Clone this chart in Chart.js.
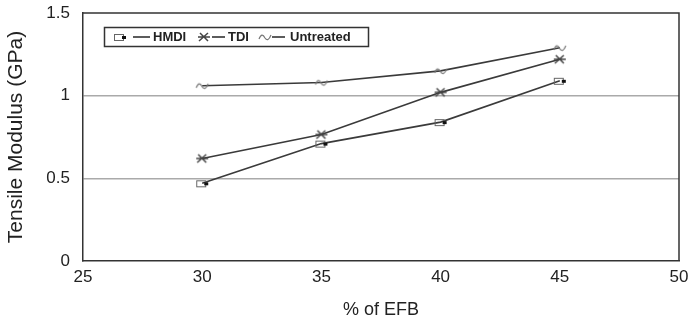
<!DOCTYPE html>
<html><head><meta charset="utf-8">
<script src="https://cdn.jsdelivr.net/npm/chart.js@4/dist/chart.umd.min.js"></script>
<style>html,body{margin:0;padding:0;background:#fff}#wrap{width:688px;height:322px}</style>
</head><body><div id="wrap"><canvas id="c" width="688" height="322"></canvas></div>
<script>
const efb = [30, 35, 40, 45];
const hmdi = [0.47, 0.71, 0.84, 1.09];
const tdi = [0.62, 0.765, 1.02, 1.22];
const untreated = [1.06, 1.08, 1.15, 1.29];
const seriesNames = ['HMDI', 'TDI', 'Untreated'];
const xTicks = [25, 30, 35, 40, 45, 50];
const yTicks = [0, 0.5, 1, 1.5];

const FONT = '"Liberation Sans", Arial, sans-serif';
function mk(w, h, fn) { const c = document.createElement('canvas'); c.width = w; c.height = h; const g = c.getContext('2d'); fn(g); return c; }
const ink = '#444';
const mHMDI = mk(16, 10, g => { g.strokeStyle = '#666'; g.lineWidth = 1; g.strokeRect(2.5, 2.5, 9, 6); g.fillStyle = '#111'; g.fillRect(10, 4, 4, 3); });
const mTDI = mk(16, 14, g => { g.strokeStyle = ink; g.lineWidth = 1.5; g.beginPath(); g.moveTo(3, 11); g.lineTo(12, 3); g.moveTo(4, 3); g.lineTo(8, 7); g.lineTo(12, 11); g.moveTo(2, 7); g.lineTo(14, 7); g.stroke(); });
const mUnt = mk(16, 10, g => { g.strokeStyle = '#777'; g.lineWidth = 1.2; g.beginPath(); g.moveTo(2, 7); g.bezierCurveTo(4, 2, 6, 2, 8, 6); g.bezierCurveTo(10, 9, 12, 8, 14, 3); g.stroke(); });
const markers = [mHMDI, mTDI, mUnt];

function ds(label, vals, m) {
  return { label, data: efb.map((x, i) => ({ x, y: vals[i] })), borderColor: '#3a3a3a', borderWidth: 1.6,
    pointStyle: m, pointRadius: 5, pointHoverRadius: 5, fill: false, tension: 0 };
}

// legend layout offsets relative to box left: [marker, lineStart, lineEnd, text]
const legendSlots = [[8, 29, 46, 49], [92, 108, 121, 124], [153, 168, 181, 186]];
const legendPlugin = {
  id: 'boxLegend',
  afterDraw(chart) {
    const g = chart.ctx, a = chart.chartArea;
    const x0 = a.left + 21, y0 = a.top + 14, h = 19, w = 264;
    g.save();
    g.font = 'bold 13px ' + FONT;
    g.textBaseline = 'middle';
    g.fillStyle = '#222';
    const cy = y0 + h / 2 + 0.5;
    seriesNames.forEach((n, i) => {
      const m = markers[i], s = legendSlots[i];
      g.drawImage(m, x0 + s[0], cy - m.height / 2);
      g.strokeStyle = '#333'; g.lineWidth = 1.6; g.beginPath(); g.moveTo(x0 + s[1], cy); g.lineTo(x0 + s[2], cy); g.stroke();
      g.fillText(n, x0 + s[3], cy);
    });
    g.strokeStyle = '#333'; g.lineWidth = 1.5;
    g.strokeRect(x0 + 0.5, y0 + 0.5, w, h);
    g.restore();
  }
};

new Chart(document.getElementById('c'), {
  type: 'line',
  data: { datasets: [ds(seriesNames[0], hmdi, mHMDI), ds(seriesNames[1], tdi, mTDI), ds(seriesNames[2], untreated, mUnt)] },
  options: {
    responsive: false, animation: false, devicePixelRatio: 1,
    layout: { padding: { top: 13, right: 9, left: 0, bottom: 0 } },
    plugins: { legend: { display: false }, tooltip: { enabled: false } },
    scales: {
      x: { type: 'linear', min: 25, max: 50,
        afterBuildTicks: s => { s.ticks = xTicks.map(v => ({ value: v })); },
        afterFit: s => { s.height = 61; s.paddingLeft = 0; s.paddingRight = 0; },
        grid: { display: false, drawTicks: false },
        border: { display: true, color: '#333', width: 1.5 },
        ticks: { color: '#222', font: { family: FONT, size: 17 }, padding: 6, maxRotation: 0, callback: v => String(v) },
        title: { display: true, text: '% of EFB', color: '#222', font: { family: FONT, size: 18 }, padding: { top: 5, bottom: 1 } } },
      y: { type: 'linear', min: 0, max: 1.5,
        afterBuildTicks: s => { s.ticks = yTicks.map(v => ({ value: v })); },
        afterFit: s => { s.width = 83; s.paddingTop = 0; s.paddingBottom = 0; },
        grid: { color: ctx => (ctx.tick && (ctx.tick.value === 0.5 || ctx.tick.value === 1)) ? '#aaa' : 'rgba(0,0,0,0)', lineWidth: 1.5, drawTicks: false },
        border: { display: true, color: '#333', width: 1.5 },
        ticks: { color: '#222', font: { family: FONT, size: 17 }, padding: 13, callback: v => String(v) },
        title: { display: true, text: 'Tensile Modulus (GPa)', color: '#222', font: { family: FONT, size: 21 }, padding: { top: 4, bottom: 5 } } }
    }
  },
  plugins: [legendPlugin, {
    id: 'frame',
    afterDatasetsDraw(chart) {
      const g = chart.ctx, a = chart.chartArea;
      g.save(); g.strokeStyle = '#333'; g.lineWidth = 1.5;
      g.beginPath(); g.moveTo(a.left, a.top); g.lineTo(a.right, a.top); g.lineTo(a.right, a.bottom); g.stroke(); g.restore();
    }
  }]
});
</script></body></html>
